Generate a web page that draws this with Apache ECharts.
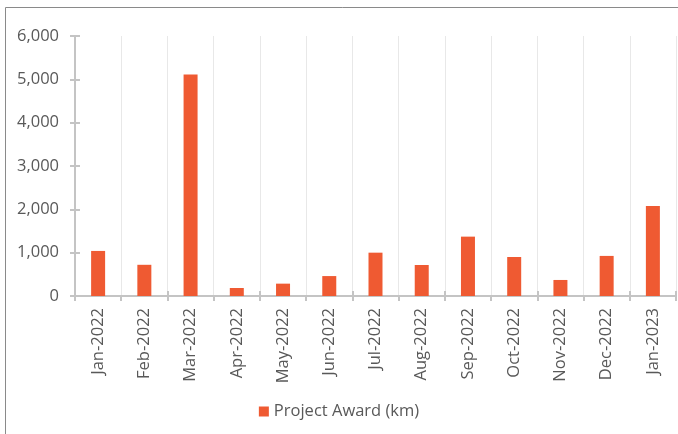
<!DOCTYPE html>
<html>
<head>
<meta charset="utf-8">
<script src="https://cdn.jsdelivr.net/npm/echarts@6/dist/echarts.min.js"></script>
<style>html,body{margin:0;padding:0;background:#fff}#c{width:678px;height:434px}</style>
</head>
<body>
<div id="c"></div>
<script>
const categories = ['Jan-2022','Feb-2022','Mar-2022','Apr-2022','May-2022','Jun-2022','Jul-2022','Aug-2022','Sep-2022','Oct-2022','Nov-2022','Dec-2022','Jan-2023'];
const projectAward = [1040, 720, 5110, 185, 285, 460, 1000, 715, 1370, 900, 370, 925, 2075];
const seriesName = 'Project Award (km)';
const yTicks = { min: 0, max: 6000, interval: 1000 };

const textColor = '#595959';
const axisColor = '#C4C4C4';
const font = 'Open Sans';

const chart = echarts.init(document.getElementById('c'), null, { renderer: 'canvas' });
chart.setOption({
  animation: false,
  textStyle: { fontFamily: font },
  graphic: [{
    type: 'rect', left: 3, top: 5, z: -1,
    shape: { width: 720, height: 480 },
    style: { fill: 'none', stroke: '#8a8a8a', lineWidth: 1 }
  }],
  grid: { left: 75, right: 2, top: 36, bottom: 138, containLabel: false },
  legend: {
    bottom: 9, left: 'center',
    itemWidth: 10, itemHeight: 10, itemGap: 5,
    icon: 'rect',
    textStyle: { color: textColor, fontSize: 16.5, fontFamily: font },
    data: [seriesName]
  },
  xAxis: [{
    type: 'category', data: categories, position: 'bottom',
    axisLine: { lineStyle: { color: axisColor, width: 2 } },
    axisTick: { show: true, inside: false, length: 5, lineStyle: { color: axisColor, width: 2 } },
    axisLabel: { rotate: 90, color: textColor, fontSize: 16.5, margin: 12, fontFamily: font },
    splitLine: { show: true, lineStyle: { color: '#E8E8E8', width: 1 } }
  }, {
    type: 'category', data: categories, position: 'bottom',
    axisLine: { show: false },
    axisTick: { show: true, inside: true, length: 5, lineStyle: { color: axisColor, width: 2 } },
    axisLabel: { show: false },
    splitLine: { show: false }
  }],
  yAxis: [{
    type: 'value', min: yTicks.min, max: yTicks.max, interval: yTicks.interval,
    axisLine: { show: true, lineStyle: { color: axisColor, width: 2 } },
    axisTick: { show: true, inside: false, length: 5, lineStyle: { color: axisColor, width: 2 } },
    axisLabel: { color: textColor, fontSize: 16.5, margin: 16, fontFamily: font,
      formatter: v => v.toLocaleString('en-US') },
    splitLine: { show: false }
  }, {
    type: 'value', min: yTicks.min, max: yTicks.max, interval: yTicks.interval, position: 'left',
    axisLine: { show: false },
    axisTick: { show: true, inside: true, length: 5, lineStyle: { color: axisColor, width: 2 } },
    axisLabel: { show: false },
    splitLine: { show: false }
  }],
  series: [{
    name: seriesName, type: 'bar', data: projectAward,
    xAxisIndex: 0, yAxisIndex: 0,
    barWidth: 14,
    itemStyle: { color: '#EF5A32' }
  }]
});
</script>
</body>
</html>
